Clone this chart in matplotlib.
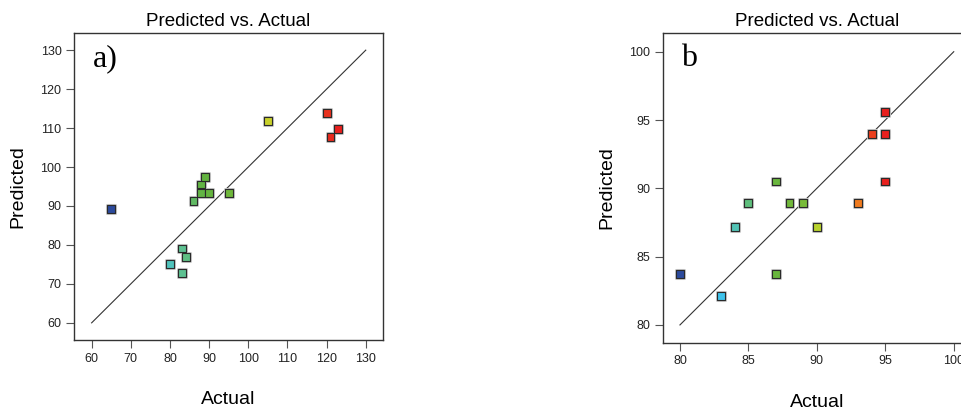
import matplotlib
matplotlib.use("Agg")
import matplotlib.pyplot as plt
from matplotlib.colors import LinearSegmentedColormap, Normalize
import matplotlib.patheffects as pe
import numpy as np

# ---- data ----
a_actual = [65, 80, 83, 84, 83, 86, 88, 89, 88, 90, 95, 105, 120, 123, 121]
a_pred = [89.2, 75.0, 79.1, 77.0, 72.9, 91.2, 95.5, 97.5, 93.4, 93.4, 93.4, 111.8, 113.9, 109.8, 107.6]
a_ticks = [60, 70, 80, 90, 100, 110, 120, 130]

b_actual = [80, 83, 84, 85, 87, 87, 88, 89, 90, 93, 94, 95, 95, 95]
b_pred = [83.7, 82.1, 87.2, 88.9, 90.5, 83.7, 88.9, 88.9, 87.2, 88.9, 94.0, 95.6, 94.0, 90.5]
b_ticks = [80, 85, 90, 95, 100]

title = "Predicted vs. Actual"
xlabel = "Actual"
ylabel = "Predicted"

plt.rcParams['font.family'] = ['Liberation Sans', 'DejaVu Sans']

cmap = LinearSegmentedColormap.from_list(
    "de", [(0.0, "#2c4a9c"), (0.2, "#3ec3ec"), (0.3, "#5cc39a"),
           (0.4, "#62b340"), (0.6, "#78bb38"), (0.68, "#c5d62b"),
           (0.85, "#f28a1e"), (0.95, "#e8301e"), (1.0, "#e8201e")])

fig = plt.figure(figsize=(9.62, 4.13), dpi=100)
axa = fig.add_axes([74/962, (413-340)/413, 309/962, 307/413])
axb = fig.add_axes([662.7/962, (413-342.7)/413, 308.3/962, 309.7/413])

def draw(ax, actual, pred, ticks, lims, label):
    lo, hi = ticks[0], ticks[-1]
    ax.plot([lo, hi], [lo, hi], color="#333333", lw=0.8, zorder=1)
    norm = Normalize(min(actual), max(actual))
    cols = cmap(norm(np.array(actual)))
    sc = ax.scatter(actual, pred, marker="s", s=32, c=cols, edgecolors="#2a2a2a",
                    linewidths=0.8, zorder=3)
    sc.set_path_effects([pe.Stroke(linewidth=2.2, foreground="#c4c4c4"), pe.Normal()])
    ax.set_xlim(*lims[0])
    ax.set_ylim(*lims[1])
    ax.set_xticks(ticks)
    ax.set_yticks(ticks)
    ax.tick_params(length=5.5, width=0.8, pad=3.5, labelsize=9, colors="#222222")
    ax.tick_params(color="#555555")
    for sp in ax.spines.values():
        sp.set_color("#333333")
        sp.set_linewidth(1.0)
    ax.set_title(title, fontsize=13.5, pad=5)
    ax.set_xlabel(xlabel, fontsize=14, labelpad=19)
    ax.set_ylabel(ylabel, fontsize=14, labelpad=10)
    ax.text(0.06, 0.965, label, transform=ax.transAxes, family="Liberation Serif",
            fontsize=23, va="top", ha="left", zorder=4)

draw(axa, a_actual, a_pred, a_ticks, ((55.5, 134.4), (55.6, 134.4)), "a)")
draw(axb, b_actual, b_pred, b_ticks, ((78.74, 101.26), (78.7, 101.37)), "b")

fig.savefig("out.png", dpi=100)
